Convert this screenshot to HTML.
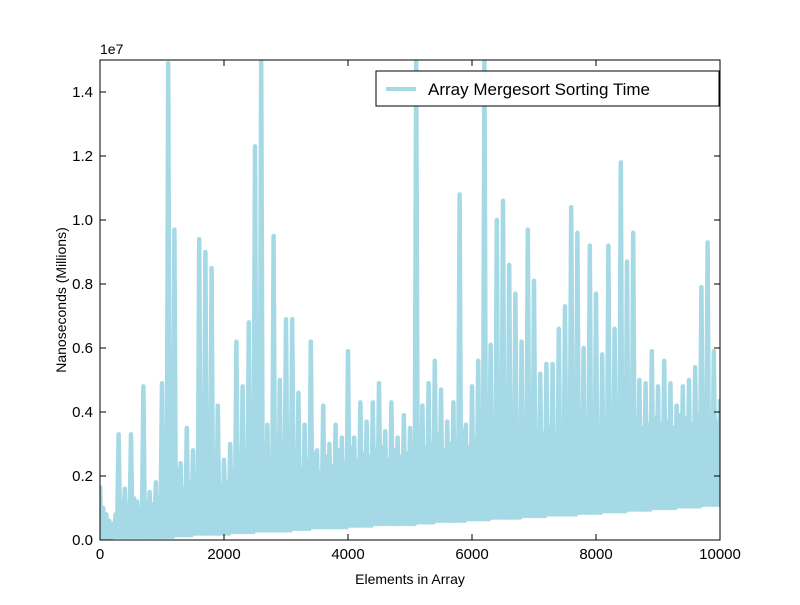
<!DOCTYPE html>
<html><head><meta charset="utf-8"><style>
body{margin:0;background:#fff;}
svg{font-family:"Liberation Sans",sans-serif;}
</style></head><body>
<svg id="chart" width="800" height="600">
<defs><clipPath id="clip"><rect x="100" y="60" width="620" height="480"/></clipPath></defs>
<rect x="0" y="0" width="800" height="600" fill="#fff"/>
<g id="series" clip-path="url(#clip)"></g>
<g id="axes"></g>
</svg>
<script>
const tops=[1.7,0.8,0.5,3.3,1.6,3.3,1.2,4.8,1.5,1.8,4.9,14.9,9.7,2.4,3.5,2.8,9.4,9.0,8.5,4.2,2.5,3.0,6.2,4.8,6.8,12.3,15,3.6,9.5,5.0,6.9,6.9,4.6,3.6,6.2,2.8,4.2,3.0,3.6,3.2,5.9,3.2,4.3,3.7,4.3,4.9,3.4,4.3,3.2,3.9,3.5,15,4.2,4.9,5.6,4.7,3.7,4.3,10.8,3.6,4.8,5.6,15,6.1,10.0,10.6,8.6,7.7,6.2,9.7,8.1,5.2,5.5,5.5,6.6,7.3,10.4,9.6,6.0,9.2,7.7,5.8,9.2,6.6,11.8,8.7,9.6,5.0,4.9,5.9,4.8,5.6,4.9,4.2,4.8,5.0,5.4,7.9,9.3,5.9,4.4];
const lows=[0.0,0.05,0.1,0.1,0.1,0.1,0.1,0.1,0.1,0.1,0.1,0.1,0.15,0.15,0.15,0.2,0.2,0.2,0.2,0.2,0.2,0.25,0.25,0.25,0.25,0.3,0.3,0.3,0.3,0.3,0.3,0.35,0.35,0.35,0.4,0.4,0.4,0.4,0.4,0.4,0.45,0.45,0.45,0.45,0.5,0.5,0.5,0.5,0.5,0.5,0.5,0.55,0.55,0.55,0.6,0.6,0.6,0.6,0.6,0.65,0.65,0.65,0.65,0.7,0.7,0.7,0.7,0.7,0.75,0.75,0.75,0.75,0.8,0.8,0.8,0.8,0.8,0.85,0.85,0.85,0.85,0.9,0.9,0.9,0.9,0.95,0.95,0.95,0.95,1.0,1.0,1.0,1.0,1.05,1.05,1.05,1.05,1.1,1.1,1.1,1.1];
const mids=[1.0,0.6,0.8,1.2,0.9,1.3,1.0,1.2,1.1,1.3,1.4,2.0,2.2,1.6,1.8,1.5,2.3,2.0,2.4,1.7,1.8,2.1,2.6,2.2,2.4,2.8,3.0,2.0,2.6,2.2,2.4,2.6,2.2,2.5,2.7,2.1,2.6,2.3,2.8,2.4,2.9,2.5,2.7,2.6,2.8,2.9,2.5,2.8,2.6,2.7,2.8,3.2,2.9,3.0,3.3,2.8,3.0,3.1,3.4,2.9,3.1,3.3,3.5,3.2,3.6,3.4,3.3,3.5,3.2,3.6,3.4,3.3,3.5,3.2,3.4,3.6,3.8,3.5,3.3,3.7,3.5,3.4,3.8,3.6,3.9,3.7,3.8,3.5,3.6,3.8,3.6,3.7,3.5,3.9,3.8,3.6,3.9,4.0,3.8,3.7,3.6];
const xTicks=[0,2000,4000,6000,8000,10000];
const yTicks=[0,2,4,6,8,10,12,14];
const yTickLabels=["0.0","0.2","0.4","0.6","0.8","1.0","1.2","1.4"];
const step=100;
const X0=100,X1=720,Y0=540,Y1=60,XMAX=10000,YMAX=15;
const sx=v=>X0+v/XMAX*(X1-X0);
const sy=v=>Y0-v/YMAX*(Y0-Y1);
const NS="http://www.w3.org/2000/svg";
function mk(tag,attrs,parent,text){const e=document.createElementNS(NS,tag);for(const k in attrs)e.setAttribute(k,attrs[k]);if(text!=null)e.textContent=text;parent.appendChild(e);return e;}
const pts=[];
for(let i=0;i<tops.length;i++){
  const x=i*step;
  pts.push([sx(x),sy(tops[i])]);
  if(i<tops.length-1){
    pts.push([sx(x+step*0.25),sy(lows[i])]);
    pts.push([sx(x+step*0.5),sy(mids[i])]);
    pts.push([sx(x+step*0.75),sy(lows[i])]);
  }
}
const sg=document.getElementById('series');
const line=mk('polyline',{points:pts.map(p=>p[0].toFixed(1)+','+p[1].toFixed(1)).join(' '),fill:'none',stroke:'#a5d9e5','stroke-width':4.5,'stroke-linejoin':'round'},sg);


const ax=document.getElementById('axes');
const frame=mk('rect',{x:X0,y:Y1,width:X1-X0,height:Y0-Y1,fill:'none',stroke:'#000','stroke-width':1},ax);


xTicks.forEach(v=>{
  const x=sx(v);
  mk('line',{x1:x,x2:x,y1:Y0,y2:Y0-6,stroke:'#000'},ax);
  mk('line',{x1:x,x2:x,y1:Y1,y2:Y1+6,stroke:'#000'},ax);
  const t=mk('text',{x:x,y:Y0+19,'font-size':15,'text-anchor':'middle'},ax,String(v));
  
  
});
yTicks.forEach((v,i)=>{
  const y=sy(v);
  mk('line',{x1:X0,x2:X0+6,y1:y,y2:y,stroke:'#000'},ax);
  mk('line',{x1:X1,x2:X1-6,y1:y,y2:y,stroke:'#000'},ax);
  const t=mk('text',{x:X0-7,y:y+5,'font-size':15,'text-anchor':'end'},ax,yTickLabels[i]);
  
  
});
const off=mk('text',{x:X0,y:Y1-6,'font-size':14},ax,'1e7');


const xt=mk('text',{x:410,y:584,'font-size':14,'text-anchor':'middle'},ax,'Elements in Array');


const yt=mk('text',{x:0,y:0,'font-size':14,'text-anchor':'middle',transform:'translate(66,300) rotate(-90)'},ax,'Nanoseconds (Millions)');


const lg=mk('g',{},ax);


mk('rect',{x:376,y:71,width:343,height:35,fill:'#fff',stroke:'#000'},lg);
mk('line',{x1:386,x2:416,y1:89,y2:89,stroke:'#a5d9e5','stroke-width':4},lg);
const lt=mk('text',{x:428,y:95,'font-size':17},lg,'Array Mergesort Sorting Time');


</script>
</body></html>
